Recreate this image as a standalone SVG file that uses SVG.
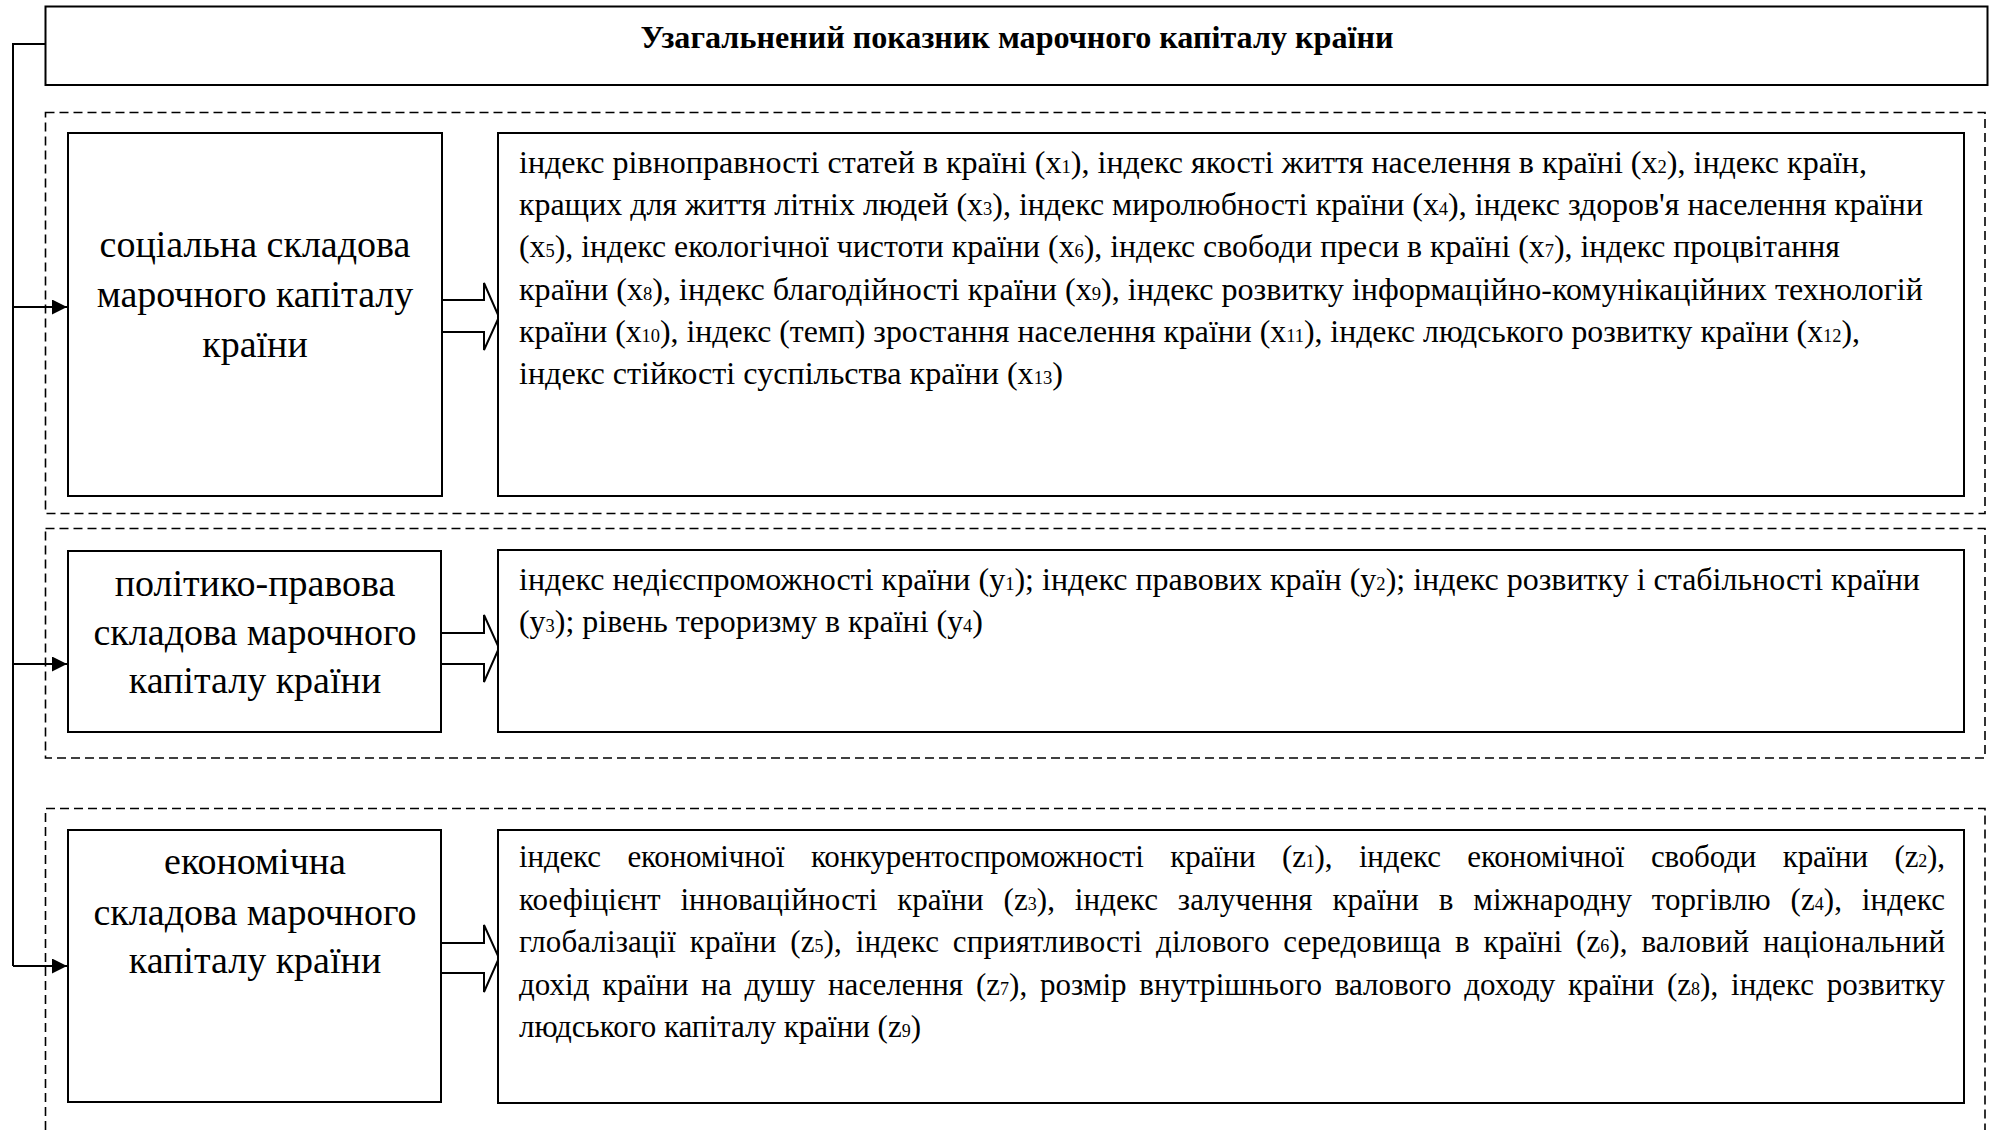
<svg xmlns="http://www.w3.org/2000/svg" width="1991" height="1130" viewBox="0 0 1991 1130">
<defs>
<style>
.box{fill:#fff;stroke:#000;stroke-width:2}
.dash{fill:none;stroke:#000;stroke-width:1.6;stroke-dasharray:9 5}
.line{fill:none;stroke:#000;stroke-width:2}
.blk{fill:#fff;stroke:#000;stroke-width:2;stroke-linejoin:miter}
.title{font-family:"Liberation Serif","Times New Roman",serif;font-weight:bold;font-size:32px;text-anchor:middle}
.lbl{font-family:"Liberation Serif","Times New Roman",serif;font-size:38px;text-anchor:middle}
.txt{font-family:"Liberation Serif","Times New Roman",serif;font-size:31px}
.s{font-size:18px}
</style>
<marker id="ah" markerWidth="16" markerHeight="16" refX="15" refY="7.5" orient="auto" markerUnits="userSpaceOnUse">
<path d="M0,0 L15,7.5 L0,15 Z" fill="#000"/>
</marker>
</defs>
<rect width="1991" height="1130" fill="#fff"/>

<g id="frames">
<rect class="dash" x="45.5" y="112.5" width="1939.5" height="401"/>
<rect class="dash" x="45.5" y="528.5" width="1939.5" height="229.5"/>
<path class="dash" d="M45.5,1130 V808.5 H1985 V1130"/>
</g>

<g id="title">
<rect class="box" x="45.5" y="6.5" width="1942" height="78.5"/>
<text class="title" x="1017" y="48" textLength="753" lengthAdjust="spacingAndGlyphs">Узагальнений показник марочного капіталу країни</text>
</g>

<g id="connectors">
<path class="line" d="M45.5,44 H13 V966"/>
<path class="line" d="M13,307 H67" marker-end="url(#ah)"/>
<path class="line" d="M13,664 H67" marker-end="url(#ah)"/>
<path class="line" d="M13,966 H67" marker-end="url(#ah)"/>
<path class="blk" d="M442,300 H484 V283 L499,317 L484,350 V332 H442"/>
<path class="blk" d="M441,633 H484 V615 L499,648 L484,682 V664 H441"/>
<path class="blk" d="M441,943 H484 V925 L499,958 L484,992 V973 H441"/>
</g>

<g id="social">
<rect class="box" x="68" y="133" width="374" height="363"/>
<text class="lbl"><tspan x="255" y="257">соціальна складова</tspan><tspan x="255" y="307">марочного капіталу</tspan><tspan x="255" y="357">країни</tspan></text>
</g>

<g id="social-indices">
<rect class="box" x="498" y="133" width="1466" height="363"/>
<text class="txt" x="519" y="173" textLength="1348" lengthAdjust="spacingAndGlyphs">індекс рівноправності статей в країні (x<tspan class="s">1</tspan>), індекс якості життя населення в країні (x<tspan class="s">2</tspan>), індекс країн,</text>
<text class="txt" x="519" y="215" textLength="1404" lengthAdjust="spacingAndGlyphs">кращих для життя літніх людей (x<tspan class="s">3</tspan>), індекс миролюбності країни (x<tspan class="s">4</tspan>), індекс здоров'я населення країни</text>
<text class="txt" x="519" y="257" textLength="1321" lengthAdjust="spacingAndGlyphs">(x<tspan class="s">5</tspan>), індекс екологічної чистоти країни (x<tspan class="s">6</tspan>), індекс свободи преси в країні (x<tspan class="s">7</tspan>), індекс процвітання</text>
<text class="txt" x="519" y="300" textLength="1404" lengthAdjust="spacingAndGlyphs">країни (x<tspan class="s">8</tspan>), індекс благодійності країни (x<tspan class="s">9</tspan>), індекс розвитку інформаційно-комунікаційних технологій</text>
<text class="txt" x="519" y="342" textLength="1341" lengthAdjust="spacingAndGlyphs">країни (x<tspan class="s">10</tspan>), індекс (темп) зростання населення країни (x<tspan class="s">11</tspan>), індекс людського розвитку країни (x<tspan class="s">12</tspan>),</text>
<text class="txt" x="519" y="384" textLength="544" lengthAdjust="spacingAndGlyphs">індекс стійкості суспільства країни (x<tspan class="s">13</tspan>)</text>
</g>

<g id="political">
<rect class="box" x="68" y="551" width="373" height="181"/>
<text class="lbl"><tspan x="255" y="596">політико-правова</tspan><tspan x="255" y="645">складова марочного</tspan><tspan x="255" y="693">капіталу країни</tspan></text>
</g>

<g id="political-indices">
<rect class="box" x="498" y="550" width="1466" height="182"/>
<text class="txt" x="519" y="590" textLength="1401" lengthAdjust="spacingAndGlyphs">індекс недієспроможності країни (y<tspan class="s">1</tspan>); індекс правових країн (y<tspan class="s">2</tspan>); індекс розвитку і стабільності країни</text>
<text class="txt" x="519" y="632" textLength="464" lengthAdjust="spacingAndGlyphs">(y<tspan class="s">3</tspan>); рівень тероризму в країні (y<tspan class="s">4</tspan>)</text>
</g>

<g id="economic">
<rect class="box" x="68" y="830" width="373" height="272"/>
<text class="lbl"><tspan x="255" y="874">економічна</tspan><tspan x="255" y="925">складова марочного</tspan><tspan x="255" y="973">капіталу країни</tspan></text>
</g>

<g id="economic-indices">
<rect class="box" x="498" y="830" width="1466" height="273"/>
<text class="txt" x="519" y="867" word-spacing="19" textLength="1426" lengthAdjust="spacing">індекс економічної конкурентоспроможності країни (z<tspan class="s">1</tspan>), індекс економічної свободи країни (z<tspan class="s">2</tspan>),</text>
<text class="txt" x="519" y="910" word-spacing="12" textLength="1426" lengthAdjust="spacing">коефіцієнт інноваційності країни (z<tspan class="s">3</tspan>), індекс залучення країни в міжнародну торгівлю (z<tspan class="s">4</tspan>), індекс</text>
<text class="txt" x="519" y="952" word-spacing="6" textLength="1426" lengthAdjust="spacing">глобалізації країни (z<tspan class="s">5</tspan>), індекс сприятливості ділового середовища в країні (z<tspan class="s">6</tspan>), валовий національний</text>
<text class="txt" x="519" y="995" word-spacing="5" textLength="1426" lengthAdjust="spacing">дохід країни на душу населення (z<tspan class="s">7</tspan>), розмір внутрішнього валового доходу країни (z<tspan class="s">8</tspan>), індекс розвитку</text>
<text class="txt" x="519" y="1037">людського капіталу країни (z<tspan class="s">9</tspan>)</text>
</g>
</svg>
